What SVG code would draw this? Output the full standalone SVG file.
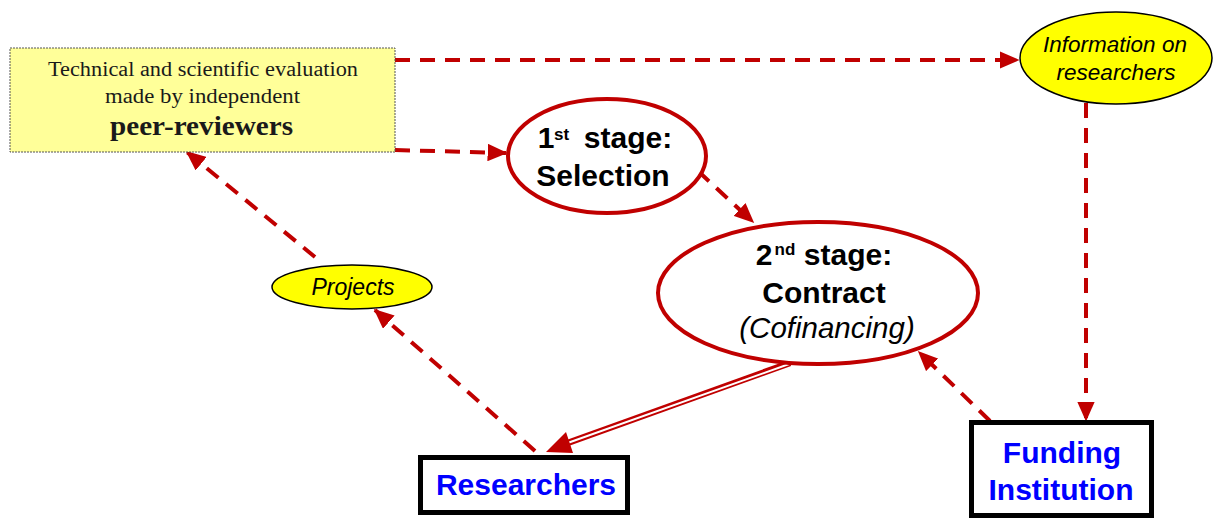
<svg xmlns="http://www.w3.org/2000/svg" width="1215" height="518" viewBox="0 0 1215 518">
<defs>
<marker id="ah" markerWidth="5" markerHeight="4.4" refX="4.6" refY="2.2" orient="auto" markerUnits="strokeWidth">
<path d="M0,0 L5,2.2 L0,4.4 Z" fill="#C00000"/>
</marker>
</defs>
<style>
.dash{fill:none;stroke:#C00000;stroke-width:4;stroke-dasharray:15 10;marker-end:url(#ah)}
.stage{fill:#fff;stroke:#C00000;stroke-width:4}
.yel{fill:#FFFF00;stroke:#000;stroke-width:1.5}
.box{fill:#fff;stroke:#000;stroke-width:5}
.sans{font-family:"Liberation Sans",Arial,sans-serif;text-anchor:middle}
.serif{font-family:"Liberation Serif","Times New Roman",serif;text-anchor:middle;fill:#1a1a1a}
.b{font-weight:bold}
.i{font-style:italic}
.blue{fill:#0000FF;font-weight:bold;font-size:30px}
</style>
<rect width="1215" height="518" fill="#fff"/>
<g id="connectors">
<line class="dash" x1="395" y1="60" x2="1018" y2="60"/>
<line class="dash" x1="395" y1="150" x2="506" y2="153"/>
<line class="dash" x1="698" y1="171" x2="753" y2="222"/>
<line class="dash" x1="1086" y1="103" x2="1086" y2="420"/>
<line class="dash" x1="990" y1="421" x2="919" y2="352"/>
<line class="dash" x1="535" y1="451" x2="375" y2="310"/>
<line class="dash" x1="315" y1="257" x2="187" y2="152"/>
<g id="double">
<line x1="790" y1="363" x2="562" y2="445" stroke="#C00000" stroke-width="6.5"/>
<line x1="792" y1="363" x2="562" y2="445" stroke="#fff" stroke-width="2"/>
<path d="M546,452 L566,432 L573,453 Z" fill="#C00000"/>
</g>
</g>
<g id="peer">
<rect x="10" y="48" width="385" height="104" fill="#FFFF99" stroke="#555" stroke-width="1" stroke-dasharray="2 1"/>
<text class="serif" x="203" y="76" font-size="20.5" textLength="310" lengthAdjust="spacingAndGlyphs">Technical and scientific evaluation</text>
<text class="serif" x="202.5" y="103" font-size="20.5" textLength="195" lengthAdjust="spacingAndGlyphs">made by independent</text>
<text class="serif b" x="201.5" y="135" font-size="27" textLength="183" lengthAdjust="spacingAndGlyphs" fill="#111">peer-reviewers</text>
</g>
<g id="info">
<ellipse class="yel" cx="1116" cy="58" rx="96" ry="46"/>
<text class="sans i" x="1115" y="52" font-size="22.5">Information on</text>
<text class="sans i" x="1116" y="80" font-size="22.5">researchers</text>
</g>
<g id="selection">
<ellipse class="stage" cx="607" cy="156" rx="99" ry="57"/>
<text class="sans b" font-size="30"><tspan x="546" y="148">1</tspan><tspan x="561.5" y="140" font-size="17">st</tspan><tspan x="628" y="148">stage:</tspan></text>
<text class="sans b" x="603" y="186" font-size="30">Selection</text>
</g>
<g id="contract">
<ellipse class="stage" cx="818" cy="293" rx="160" ry="71"/>
<text class="sans b" font-size="30"><tspan x="764" y="265">2</tspan><tspan x="785" y="255" font-size="17">nd</tspan><tspan x="848" y="265">stage:</tspan></text>
<text class="sans b" x="824" y="303" font-size="30">Contract</text>
<text class="sans i" x="827" y="338" font-size="29.5">(Cofinancing)</text>
</g>
<g id="projects">
<ellipse class="yel" cx="352" cy="287" rx="80" ry="22"/>
<text class="sans i" x="353" y="295" font-size="23">Projects</text>
</g>
<g id="researchers">
<rect class="box" x="420.5" y="457.5" width="207" height="55"/>
<text class="sans blue" x="526" y="495">Researchers</text>
</g>
<g id="funding">
<rect class="box" x="971.5" y="422.5" width="180" height="93"/>
<text class="sans blue" x="1062" y="463">Funding</text>
<text class="sans blue" x="1061" y="500">Institution</text>
</g>
</svg>
